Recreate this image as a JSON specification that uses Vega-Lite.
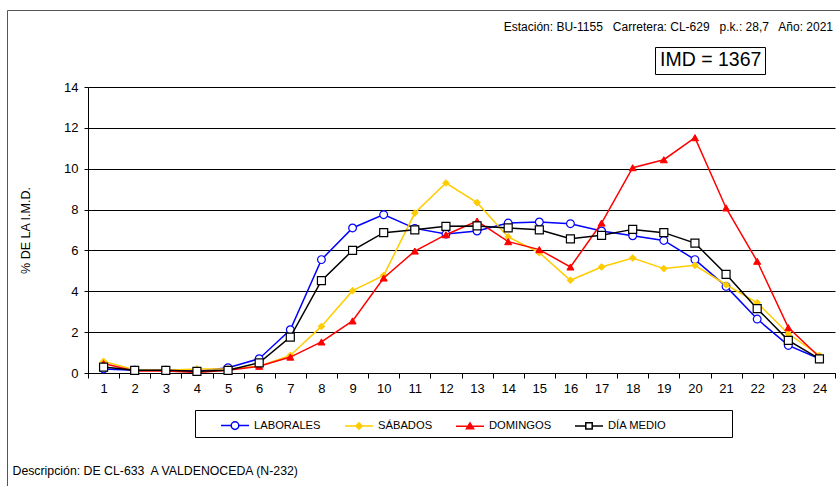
{
  "$schema": "https://vega.github.io/schema/vega-lite/v6.json",
  "width": 747,
  "height": 286,
  "autosize": {"type": "none"},
  "padding": {"left": 88, "top": 87, "right": 5, "bottom": 113},
  "background": "white",
  "config": {"view": {"stroke": null}, "font": "Liberation Sans"},
  "title": {"text": "Estación: BU-1155\u00a0\u00a0 Carretera: CL-629\u00a0\u00a0 p.k.: 28,7\u00a0\u00a0 Año: 2021", "anchor": "end", "frame": "group", "fontSize": 12, "font": "Liberation Sans", "fontWeight": "normal", "color": "black", "offset": -24, "dx": -2},
  "data": {"values": [
    {"hora": 1, "serie": "LABORALES", "valor": 0.2}, {"hora": 2, "serie": "LABORALES", "valor": 0.13}, {"hora": 3, "serie": "LABORALES", "valor": 0.13}, {"hora": 4, "serie": "LABORALES", "valor": 0.08}, {"hora": 5, "serie": "LABORALES", "valor": 0.26}, {"hora": 6, "serie": "LABORALES", "valor": 0.7}, {"hora": 7, "serie": "LABORALES", "valor": 2.12}, {"hora": 8, "serie": "LABORALES", "valor": 5.55}, {"hora": 9, "serie": "LABORALES", "valor": 7.1}, {"hora": 10, "serie": "LABORALES", "valor": 7.75}, {"hora": 11, "serie": "LABORALES", "valor": 7.08}, {"hora": 12, "serie": "LABORALES", "valor": 6.8}, {"hora": 13, "serie": "LABORALES", "valor": 6.95}, {"hora": 14, "serie": "LABORALES", "valor": 7.34}, {"hora": 15, "serie": "LABORALES", "valor": 7.39}, {"hora": 16, "serie": "LABORALES", "valor": 7.31}, {"hora": 17, "serie": "LABORALES", "valor": 6.95}, {"hora": 18, "serie": "LABORALES", "valor": 6.72}, {"hora": 19, "serie": "LABORALES", "valor": 6.49}, {"hora": 20, "serie": "LABORALES", "valor": 5.55}, {"hora": 21, "serie": "LABORALES", "valor": 4.24}, {"hora": 22, "serie": "LABORALES", "valor": 2.64}, {"hora": 23, "serie": "LABORALES", "valor": 1.35}, {"hora": 24, "serie": "LABORALES", "valor": 0.7},
    {"hora": 1, "serie": "SÁBADOS", "valor": 0.57}, {"hora": 2, "serie": "SÁBADOS", "valor": 0.16}, {"hora": 3, "serie": "SÁBADOS", "valor": 0.13}, {"hora": 4, "serie": "SÁBADOS", "valor": 0.2}, {"hora": 5, "serie": "SÁBADOS", "valor": 0.2}, {"hora": 6, "serie": "SÁBADOS", "valor": 0.33}, {"hora": 7, "serie": "SÁBADOS", "valor": 0.86}, {"hora": 8, "serie": "SÁBADOS", "valor": 2.28}, {"hora": 9, "serie": "SÁBADOS", "valor": 4.03}, {"hora": 10, "serie": "SÁBADOS", "valor": 4.78}, {"hora": 11, "serie": "SÁBADOS", "valor": 7.83}, {"hora": 12, "serie": "SÁBADOS", "valor": 9.3}, {"hora": 13, "serie": "SÁBADOS", "valor": 8.34}, {"hora": 14, "serie": "SÁBADOS", "valor": 6.66}, {"hora": 15, "serie": "SÁBADOS", "valor": 5.89}, {"hora": 16, "serie": "SÁBADOS", "valor": 4.54}, {"hora": 17, "serie": "SÁBADOS", "valor": 5.19}, {"hora": 18, "serie": "SÁBADOS", "valor": 5.63}, {"hora": 19, "serie": "SÁBADOS", "valor": 5.11}, {"hora": 20, "serie": "SÁBADOS", "valor": 5.27}, {"hora": 21, "serie": "SÁBADOS", "valor": 4.32}, {"hora": 22, "serie": "SÁBADOS", "valor": 3.44}, {"hora": 23, "serie": "SÁBADOS", "valor": 1.92}, {"hora": 24, "serie": "SÁBADOS", "valor": 0.86},
    {"hora": 1, "serie": "DOMINGOS", "valor": 0.46}, {"hora": 2, "serie": "DOMINGOS", "valor": 0.1}, {"hora": 3, "serie": "DOMINGOS", "valor": 0.1}, {"hora": 4, "serie": "DOMINGOS", "valor": 0.03}, {"hora": 5, "serie": "DOMINGOS", "valor": 0.13}, {"hora": 6, "serie": "DOMINGOS", "valor": 0.33}, {"hora": 7, "serie": "DOMINGOS", "valor": 0.78}, {"hora": 8, "serie": "DOMINGOS", "valor": 1.52}, {"hora": 9, "serie": "DOMINGOS", "valor": 2.55}, {"hora": 10, "serie": "DOMINGOS", "valor": 4.65}, {"hora": 11, "serie": "DOMINGOS", "valor": 5.97}, {"hora": 12, "serie": "DOMINGOS", "valor": 6.77}, {"hora": 13, "serie": "DOMINGOS", "valor": 7.44}, {"hora": 14, "serie": "DOMINGOS", "valor": 6.43}, {"hora": 15, "serie": "DOMINGOS", "valor": 6.04}, {"hora": 16, "serie": "DOMINGOS", "valor": 5.19}, {"hora": 17, "serie": "DOMINGOS", "valor": 7.34}, {"hora": 18, "serie": "DOMINGOS", "valor": 10.05}, {"hora": 19, "serie": "DOMINGOS", "valor": 10.44}, {"hora": 20, "serie": "DOMINGOS", "valor": 11.52}, {"hora": 21, "serie": "DOMINGOS", "valor": 8.08}, {"hora": 22, "serie": "DOMINGOS", "valor": 5.47}, {"hora": 23, "serie": "DOMINGOS", "valor": 2.22}, {"hora": 24, "serie": "DOMINGOS", "valor": 0.78},
    {"hora": 1, "serie": "DÍA MEDIO", "valor": 0.29}, {"hora": 2, "serie": "DÍA MEDIO", "valor": 0.13}, {"hora": 3, "serie": "DÍA MEDIO", "valor": 0.13}, {"hora": 4, "serie": "DÍA MEDIO", "valor": 0.08}, {"hora": 5, "serie": "DÍA MEDIO", "valor": 0.13}, {"hora": 6, "serie": "DÍA MEDIO", "valor": 0.5}, {"hora": 7, "serie": "DÍA MEDIO", "valor": 1.76}, {"hora": 8, "serie": "DÍA MEDIO", "valor": 4.52}, {"hora": 9, "serie": "DÍA MEDIO", "valor": 6.0}, {"hora": 10, "serie": "DÍA MEDIO", "valor": 6.87}, {"hora": 11, "serie": "DÍA MEDIO", "valor": 7.01}, {"hora": 12, "serie": "DÍA MEDIO", "valor": 7.18}, {"hora": 13, "serie": "DÍA MEDIO", "valor": 7.2}, {"hora": 14, "serie": "DÍA MEDIO", "valor": 7.1}, {"hora": 15, "serie": "DÍA MEDIO", "valor": 7.01}, {"hora": 16, "serie": "DÍA MEDIO", "valor": 6.57}, {"hora": 17, "serie": "DÍA MEDIO", "valor": 6.74}, {"hora": 18, "serie": "DÍA MEDIO", "valor": 7.03}, {"hora": 19, "serie": "DÍA MEDIO", "valor": 6.87}, {"hora": 20, "serie": "DÍA MEDIO", "valor": 6.36}, {"hora": 21, "serie": "DÍA MEDIO", "valor": 4.83}, {"hora": 22, "serie": "DÍA MEDIO", "valor": 3.15}, {"hora": 23, "serie": "DÍA MEDIO", "valor": 1.6}, {"hora": 24, "serie": "DÍA MEDIO", "valor": 0.69}
  ]},
  "encoding": {
    "x": {"field": "hora", "type": "ordinal", "scale": {"type": "band", "paddingInner": 0, "paddingOuter": 0},
      "axis": {"title": "Descripción: DE CL-633\u00a0 A VALDENOCEDA (N-232)", "titleX": -76, "titleY": 97, "titleAlign": "left", "titleBaseline": "middle", "titleFontSize": 12.3, "titleFontWeight": "normal", "titleColor": "black",
        "labelAngle": 0, "labelFontSize": 13, "labelPadding": 4, "labelColor": "black", "tickBand": "extent", "tickSize": 5, "tickColor": "black", "domainColor": "black", "grid": false}},
    "y": {"field": "valor", "type": "quantitative", "scale": {"domain": [0, 14]},
      "axis": {"values": [0, 2, 4, 6, 8, 10, 12, 14], "title": "% DE LA I.M.D.", "titleFontSize": 12.5, "titleFontWeight": "normal", "titleColor": "black", "titlePadding": 31,
        "labelFontSize": 13, "labelPadding": 6, "labelColor": "black", "tickSize": 4, "tickColor": "black", "domainColor": "black", "gridColor": "black", "gridOpacity": 1}}
  },
  "layer": [
    {"transform": [{"filter": "datum.serie === 'LABORALES'"}],
     "mark": {"type": "line", "strokeWidth": 1.5, "color": "#0000FF",
       "point": {"shape": "circle", "filled": true, "fill": "white", "stroke": "#0000FF", "strokeWidth": 1.2, "size": 60, "opacity": 1}}},
    {"transform": [{"filter": "datum.serie === 'SÁBADOS'"}],
     "mark": {"type": "line", "strokeWidth": 1.5, "color": "#FFCC00",
       "point": {"shape": "diamond", "filled": true, "fill": "#FFCC00", "stroke": "#FFCC00", "strokeWidth": 1, "size": 45, "opacity": 1}}},
    {"transform": [{"filter": "datum.serie === 'DOMINGOS'"}],
     "mark": {"type": "line", "strokeWidth": 1.5, "color": "#FF0000",
       "point": {"shape": "triangle-up", "filled": true, "fill": "#FF0000", "stroke": "#FF0000", "strokeWidth": 1, "size": 50, "opacity": 1}}},
    {"transform": [{"filter": "datum.serie === 'DÍA MEDIO'"}],
     "mark": {"type": "line", "strokeWidth": 1.5, "color": "#000000",
       "point": {"shape": "square", "filled": true, "fill": "white", "stroke": "#000000", "strokeWidth": 1.2, "size": 64, "opacity": 1}}},
    {"mark": {"type": "point", "opacity": 0, "size": 400},
     "encoding": {
       "stroke": {"field": "serie", "type": "nominal", "scale": {"domain": ["LABORALES", "SÁBADOS", "DOMINGOS", "DÍA MEDIO"], "range": ["#0000FF", "#FFCC00", "#FF0000", "#000000"]},
         "legend": {"title": null, "orient": "none", "legendX": 107, "legendY": 323, "direction": "horizontal", "columns": 4, "padding": 4.5, "strokeColor": "black", "fillColor": "white", "symbolSize": 400, "symbolStrokeWidth": 1.5, "symbolOpacity": 1, "labelFontSize": 11.2, "labelColor": "black", "labelOffset": 32.5, "columnPadding": 2}},
       "fill": {"field": "serie", "type": "nominal", "scale": {"domain": ["LABORALES", "SÁBADOS", "DOMINGOS", "DÍA MEDIO"], "range": ["white", "#FFCC00", "#FF0000", "white"]},
         "legend": {"title": null, "orient": "none", "legendX": 107, "legendY": 323, "direction": "horizontal", "columns": 4, "padding": 4.5, "strokeColor": "black", "fillColor": "white", "symbolSize": 400, "symbolStrokeWidth": 1.5, "symbolOpacity": 1, "labelFontSize": 11.2, "labelColor": "black", "labelOffset": 32.5, "columnPadding": 2}},
       "shape": {"field": "serie", "type": "nominal", "scale": {"domain": ["LABORALES", "SÁBADOS", "DOMINGOS", "DÍA MEDIO"], "range": [
           "M1.05,0L2.07,0M2.83,0L3.85,0M2.07,0A0.38,0.38,0,1,0,2.83,0A0.38,0.38,0,1,0,2.07,0Z",
           "M1.05,0L3.85,0M2.45,-0.32L2.77,0L2.45,0.32L2.13,0Z",
           "M1.05,0L3.85,0M2.45,-0.33L2.81,0.27L2.09,0.27Z",
           "M1.05,0L2.13,0M2.77,0L3.85,0M2.13,-0.32L2.77,-0.32L2.77,0.32L2.13,0.32ZM16,0"]},
         "legend": {"title": null, "orient": "none", "legendX": 107, "legendY": 323, "direction": "horizontal", "columns": 4, "padding": 4.5, "strokeColor": "black", "fillColor": "white", "symbolSize": 400, "symbolStrokeWidth": 1.5, "symbolOpacity": 1, "labelFontSize": 11.2, "labelColor": "black", "labelOffset": 32.5, "columnPadding": 2}}
     }},
    {"mark": {"type": "rule", "opacity": 0},
     "encoding": {"strokeDash": {"datum": "IMD = 1367", "type": "nominal",
       "legend": {"title": null, "orient": "none", "legendX": 567, "legendY": -40, "padding": 3.5, "strokeColor": "black", "fillColor": "white", "symbolSize": 0, "symbolStrokeWidth": 0, "symbolOpacity": 0, "labelOffset": -18, "labelFontSize": 19.5, "labelColor": "black"}}}},
    {"mark": {"type": "rule", "opacity": 0},
     "encoding": {"color": {"datum": "marco", "type": "nominal", "scale": {"range": ["white"]},
       "legend": {"title": null, "orient": "none", "legendX": -81, "legendY": -77, "padding": 700, "strokeColor": "#555555", "fillColor": null, "symbolOpacity": 0, "labelOpacity": 0, "labelExpr": "''"}}}}
  ]
}
